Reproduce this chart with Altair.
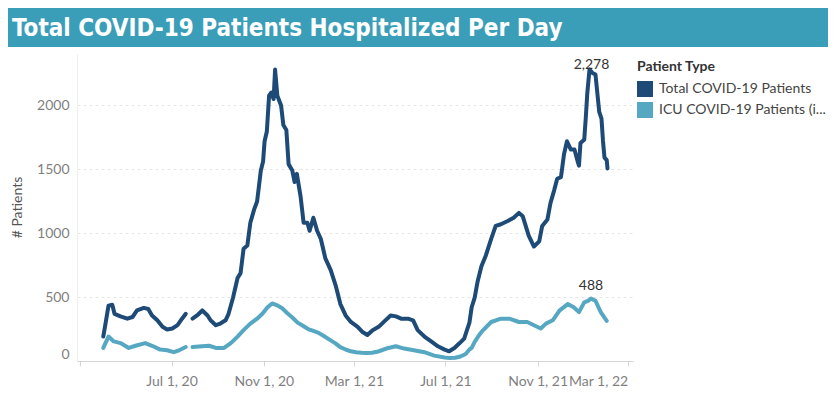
import altair as alt
import pandas as pd

TITLE = "Total COVID-19 Patients Hospitalized Per Day"
SERIES_TOTAL = "Total COVID-19 Patients"
SERIES_ICU = "ICU COVID-19 Patients (included in total)"
LEGEND_TITLE = "Patient Type"
Y_TITLE = "# Patients"

# ---- Total COVID-19 patients (two segments; data gap in late July 2020) ----
total_a_dates = ["2020-04-01", "2020-04-04", "2020-04-08", "2020-04-13", "2020-04-16", "2020-04-24",
                 "2020-05-03", "2020-05-10", "2020-05-16", "2020-05-25", "2020-05-31", "2020-06-05",
                 "2020-06-12", "2020-06-19", "2020-06-25", "2020-07-02", "2020-07-09", "2020-07-15",
                 "2020-07-20"]
total_a_values = [191, 292, 433, 440, 369, 349, 331, 344, 395, 415, 407, 356,
                  318, 267, 247, 254, 280, 331, 369]

total_b_dates = ["2020-07-29", "2020-08-04", "2020-08-11", "2020-08-18", "2020-08-22", "2020-08-29",
                 "2020-09-04", "2020-09-11", "2020-09-15", "2020-09-21", "2020-09-27", "2020-10-01",
                 "2020-10-05", "2020-10-10", "2020-10-14", "2020-10-19", "2020-10-23", "2020-10-28",
                 "2020-10-31", "2020-11-02", "2020-11-05", "2020-11-08", "2020-11-11", "2020-11-14",
                 "2020-11-16", "2020-11-19", "2020-11-24", "2020-11-27", "2020-12-01", "2020-12-04",
                 "2020-12-09", "2020-12-12", "2020-12-15", "2020-12-20", "2020-12-24", "2020-12-29",
                 "2021-01-01", "2021-01-06", "2021-01-11", "2021-01-16", "2021-01-22", "2021-01-29",
                 "2021-02-05", "2021-02-11", "2021-02-18", "2021-02-25", "2021-03-06", "2021-03-12",
                 "2021-03-19", "2021-03-26", "2021-04-03", "2021-04-12", "2021-04-19", "2021-04-26",
                 "2021-05-03", "2021-05-12", "2021-05-19", "2021-05-25", "2021-06-03", "2021-06-12",
                 "2021-06-21", "2021-06-30", "2021-07-06", "2021-07-13", "2021-07-20", "2021-07-26",
                 "2021-08-02", "2021-08-05", "2021-08-09", "2021-08-13", "2021-08-18", "2021-08-24",
                 "2021-08-31", "2021-09-06", "2021-09-13", "2021-09-22", "2021-09-30", "2021-10-07",
                 "2021-10-12", "2021-10-16", "2021-10-20", "2021-10-27", "2021-11-03", "2021-11-07",
                 "2021-11-14", "2021-11-18", "2021-11-23", "2021-11-27", "2021-12-02", "2021-12-06",
                 "2021-12-10", "2021-12-15", "2021-12-20", "2021-12-24", "2021-12-26", "2021-12-28",
                 "2022-01-02", "2022-01-04", "2022-01-06", "2022-01-09", "2022-01-13", "2022-01-17",
                 "2022-01-22", "2022-01-25", "2022-01-27", "2022-01-29", "2022-02-01", "2022-02-02"]
total_b_values = [331, 356, 395, 356, 318, 280,
                  293, 318, 369, 496, 649, 687,
                  878, 903, 1081, 1183, 1247, 1489,
                  1560, 1718, 1794, 2074, 2099, 2048,
                  2278, 2074, 1997, 1845, 1806, 1539,
                  1489, 1399, 1463, 1285, 1081, 1081,
                  1018, 1120, 1018, 954, 802, 712,
                  585, 445, 356, 305, 267, 229,
                  203, 241, 267, 318, 356, 349,
                  331, 331, 318, 241, 191, 153,
                  115, 89, 76, 102, 140, 175,
                  300, 420, 496, 624, 740, 827,
                  954, 1056, 1069, 1094, 1120, 1158,
                  1132, 1056, 980, 895, 935, 1056,
                  1107, 1234, 1336, 1425, 1438, 1615,
                  1718, 1654, 1654, 1565, 1527, 1705,
                  1730, 1895, 2087, 2278, 2252, 2239,
                  1947, 1895, 1720, 1590, 1570, 1505]

# ---- ICU COVID-19 patients ----
icu_a_dates = ["2020-04-01", "2020-04-08", "2020-04-15", "2020-04-24", "2020-05-05", "2020-05-14",
               "2020-05-27", "2020-06-05", "2020-06-16", "2020-06-25", "2020-07-04", "2020-07-11",
               "2020-07-20"]
icu_a_values = [102, 191, 153, 140, 102, 119, 140, 119, 89, 84, 69, 84, 109]

icu_b_dates = ["2020-07-29", "2020-08-11", "2020-08-20", "2020-08-29", "2020-09-09", "2020-09-18",
               "2020-09-27", "2020-10-05", "2020-10-14", "2020-10-23", "2020-10-30", "2020-11-06",
               "2020-11-12", "2020-11-19", "2020-11-26", "2020-12-02", "2020-12-09", "2020-12-16",
               "2020-12-23", "2020-12-30", "2021-01-06", "2021-01-13", "2021-01-20", "2021-01-28",
               "2021-02-04", "2021-02-11", "2021-02-18", "2021-02-25", "2021-03-04", "2021-03-11",
               "2021-03-18", "2021-03-25", "2021-04-01", "2021-04-07", "2021-04-16", "2021-04-26",
               "2021-05-07", "2021-05-20", "2021-06-03", "2021-06-16", "2021-06-30", "2021-07-07",
               "2021-07-14", "2021-07-21", "2021-07-28", "2021-08-02", "2021-08-05", "2021-08-09",
               "2021-08-14", "2021-08-20", "2021-08-31", "2021-09-13", "2021-09-24", "2021-10-07",
               "2021-10-18", "2021-10-27", "2021-11-05", "2021-11-12", "2021-11-21", "2021-11-30",
               "2021-12-11", "2021-12-19", "2021-12-26", "2022-01-02", "2022-01-07", "2022-01-11",
               "2022-01-17", "2022-01-24", "2022-02-01"]
icu_b_values = [109, 115, 119, 102, 102, 140,
                191, 241, 292, 331, 369, 420,
                450, 435, 410, 375, 340, 300,
                275, 250, 235, 220, 195, 165,
                140, 108, 90, 76, 68, 64,
                62, 64, 72, 84, 102, 115,
                97, 84, 69, 42, 27, 24,
                25, 35, 55, 90, 102, 150,
                195, 240, 305, 331, 331, 305,
                305, 280, 254, 292, 318, 394,
                445, 420, 382, 458, 470, 488,
                471, 382, 313]

# ---- peak annotations ----
peak_dates = ["2022-01-09", "2022-01-11"]
peak_values = [2278, 488]
peak_series = [SERIES_TOTAL, SERIES_ICU]

y_ticks = [0, 500, 1000, 1500, 2000]

DARK = "#1d4a76"
LIGHT = "#55a7c2"
BANNER = "#3b9eb9"


def frame(dates, values, series, seg):
    return pd.DataFrame({"date": dates, "value": values, "series": series, "segment": seg})


df = pd.concat([
    frame(total_a_dates, total_a_values, SERIES_TOTAL, "total-a"),
    frame(total_b_dates, total_b_values, SERIES_TOTAL, "total-b"),
    frame(icu_a_dates, icu_a_values, SERIES_ICU, "icu-a"),
    frame(icu_b_dates, icu_b_values, SERIES_ICU, "icu-b"),
], ignore_index=True)

peaks = pd.DataFrame({"date": peak_dates, "value": peak_values, "series": peak_series})

W, H = 556, 307
PAD_L, PAD_T, PAD_R, PAD_B = 69, 46, 195, 28

x_scale = alt.Scale(domain=[alt.DateTime(year=2020, month=2, date=26),
                            alt.DateTime(year=2022, month=3, date=8)])
y_scale = alt.Scale(domain=[0, 2380])
color_scale = alt.Scale(domain=[SERIES_TOTAL, SERIES_ICU], range=[DARK, LIGHT])

x_axis = alt.Axis(
    title=None,
    values=[alt.DateTime(year=2020, month=3, date=1), alt.DateTime(year=2020, month=7, date=1),
            alt.DateTime(year=2020, month=11, date=1), alt.DateTime(year=2021, month=3, date=1),
            alt.DateTime(year=2021, month=7, date=1), alt.DateTime(year=2021, month=11, date=1),
            alt.DateTime(year=2022, month=3, date=1)],
    format="%b %-d, %y",
    labelExpr="datum.value < datetime(2020, 5, 1) ? '' : datum.label",
    grid=False,
    domainColor="#d6d6d6",
    tickColor="#d6d6d6",
    tickSize=5,
    labelFont="Lato",
    labelFontSize=14,
    labelColor="#7f7f7f",
    labelPadding=8,
    labelFlush=10,
    labelOverlap=False,
)

y_axis = alt.Axis(
    title=Y_TITLE,
    values=y_ticks,
    format="d",
    ticks=False,
    domainColor="#eeeeee",
    grid=True,
    gridColor="#e6e6e6",
    gridDash=[3, 3],
    labelFont="Lato",
    labelFontSize=14,
    labelColor="#7f7f7f",
    labelPadding=8,
    labelFlush=True,
    titleFont="Lato",
    titleFontSize=14,
    titleFontWeight="normal",
    titleColor="#555555",
    titleAngle=270,
    titleAlign="center",
    titleBaseline="bottom",
    titleX=-53,
    titleY=153,
)

legend = alt.Legend(
    title=LEGEND_TITLE,
    orient="none",
    legendX=560,
    legendY=6,
    titleFont="Lato",
    titleFontSize=14,
    titleFontWeight="bold",
    titleColor="#333333",
    titlePadding=7,
    labelFont="Lato",
    labelFontSize=14,
    labelColor="#444444",
    labelLimit=200,
    labelExpr="length(datum.label) > 26 ? substring(datum.label, 0, 24) + '...' : datum.label",
    symbolType="square",
    symbolSize=256,
    symbolStrokeWidth=0,
    symbolOpacity=1,
    labelOffset=6,
    rowPadding=5,
)

# invisible squares that only provide the filled-square legend swatches
legend_keys = alt.Chart(peaks).mark_square(size=0, filled=True, opacity=1).encode(
    x=alt.X("date:T", scale=x_scale, axis=x_axis),
    y=alt.Y("value:Q", scale=y_scale, axis=y_axis),
    color=alt.Color("series:N", scale=color_scale, legend=legend),
)

lines = alt.Chart(df).mark_line(strokeWidth=4, strokeJoin="round", strokeCap="round").encode(
    x=alt.X("date:T", scale=x_scale, axis=x_axis),
    y=alt.Y("value:Q", scale=y_scale, axis=y_axis),
    color=alt.Color("series:N", scale=color_scale, legend=legend),
    detail="segment:N",
    order=alt.Order("date:T"),
)

ann_total = alt.Chart(peaks).transform_filter(
    alt.datum.series == SERIES_TOTAL
).mark_text(font="Lato", fontSize=14, color="#333333", baseline="alphabetic", dy=-1, dx=2).encode(
    x="date:T", y="value:Q", text=alt.Text("value:Q", format=",")
)

ann_icu = alt.Chart(peaks).transform_filter(
    alt.datum.series == SERIES_ICU
).mark_text(font="Lato", fontSize=14, color="#333333", baseline="alphabetic", dy=-9).encode(
    x="date:T", y="value:Q", text=alt.Text("value:Q", format=",")
)

title_df = pd.DataFrame({"title": [TITLE]})
banner = alt.Chart(title_df).mark_rect(color=BANNER).encode(
    x=alt.value(-PAD_L), x2=alt.value(W + PAD_R), y=alt.value(-PAD_T), y2=alt.value(-7)
)
title_text = alt.Chart(title_df).mark_text(
    align="left", baseline="alphabetic", font="DejaVu Sans Condensed, Liberation Sans Narrow, DejaVu Sans",
    fontSize=24, fontWeight="bold", color="white"
).encode(x=alt.value(-65), y=alt.value(-18), text="title:N")

chart = alt.layer(legend_keys, banner, title_text, lines, ann_total, ann_icu).properties(
    width=W,
    height=H,
    padding={"left": PAD_L, "top": PAD_T, "right": PAD_R, "bottom": PAD_B},
    autosize=alt.AutoSizeParams(type="none"),
).configure_view(stroke=None)

chart.save("out.html", embed_options={"renderer": "svg", "actions": False})
